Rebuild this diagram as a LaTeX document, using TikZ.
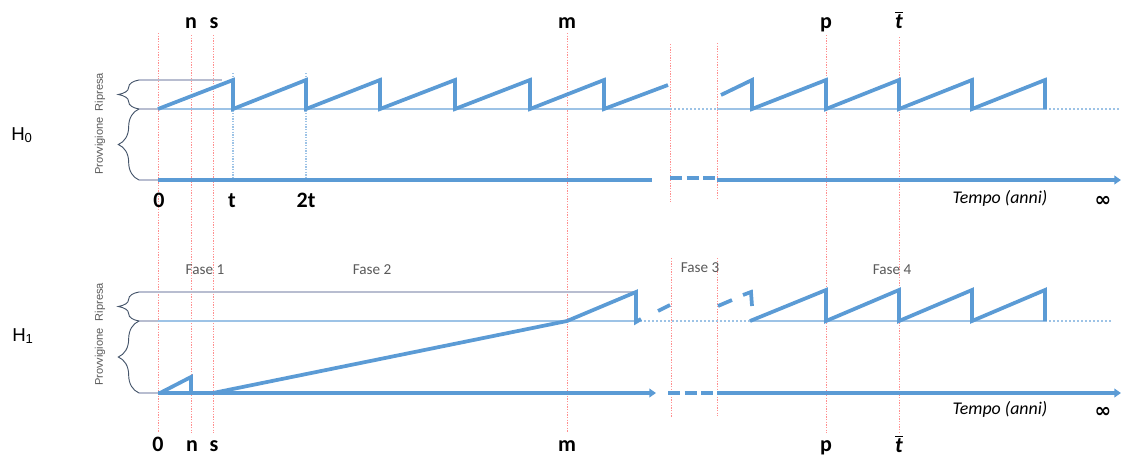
\documentclass[tikz,border=0pt]{standalone}
\usepackage{fontspec}
\setmainfont{Carlito}
\newfontfamily\arialf{Liberation Sans}
\newfontfamily\djv{DejaVu Sans}
\usetikzlibrary{arrows.meta,decorations.pathreplacing}
\definecolor{cblue}{HTML}{5B9BD5}
\definecolor{lblue}{HTML}{9DC3E6}
\definecolor{cred}{HTML}{FF8F8F}
\definecolor{navy}{HTML}{44546A}
\definecolor{lgray}{HTML}{B8BDD0}
\definecolor{tgray}{HTML}{595959}
\newcommand{\tbar}{$\overline{\mbox{\textbf{\textit{t}}}}$}
\begin{document}
\begin{tikzpicture}[x=0.75pt,y=-0.75pt,
  saw/.style={draw=cblue,line width=2.8pt},
  axisline/.style={draw=cblue,line width=2.8pt},
  axisdash/.style={draw=cblue,line width=2.8pt,dash pattern=on 9pt off 3.5pt},
  tip/.style={-{Triangle[length=5pt,width=6.5pt]}},
  base/.style={draw=lblue,line width=1.2pt},
  basedot/.style={draw=lblue,line width=1.2pt,dash pattern=on 1.5pt off 1.5pt},
  redline/.style={draw=cred,line width=0.75pt,dash pattern=on 1pt off 1pt},
  bluedot/.style={draw=lblue,line width=0.8pt,dash pattern=on 1pt off 1pt},
  guide/.style={draw=lgray,line width=0.8pt},
  brc/.style={draw=navy,line width=0.7pt,decorate,decoration={brace,amplitude=15.5pt}},
  lab/.style={font=\fontsize{16.5}{18}\selectfont\bfseries,anchor=base,inner sep=0pt},
  fase/.style={font=\fontsize{11.4}{13}\selectfont,text=tgray,anchor=base,inner sep=0pt},
  tempo/.style={font=\fontsize{13.4}{15}\selectfont\itshape,anchor=base,inner sep=0pt},
  inf/.style={font=\djv\bfseries\fontsize{15}{16}\selectfont,inner sep=0pt},
  side/.style={font=\arialf\fontsize{8.3}{10}\selectfont,text=tgray,rotate=90,inner sep=0pt},
  hlab/.style={font=\arialf\fontsize{14}{15}\selectfont,anchor=base west,inner sep=0pt}
]
\useasboundingbox (0,0) rectangle (1122,457);

% ---------- red dotted verticals ----------
\foreach \x/\ya in {158/33,191/35,213/35,567/33,826/35,899/37}
  \draw[redline] (\x,\ya) -- (\x,433);
\draw[redline] (670,44) -- (670,202);
\draw[redline] (717,43) -- (717,200);
\draw[redline] (671,258) -- (671,417);
\draw[redline] (717,258) -- (717,416);

% ---------- H0 chart ----------
\draw[guide] (139,80) -- (222,80);
\draw[guide] (139,109) -- (158,109);
\draw[guide] (139,180) -- (158,180);
\draw[brc] (139,109) -- (139,80);
\draw[brc] (139,180) -- (139,109);
\node[side] (rip0) at (100,92) {Ripresa};
\node[side] (prov0) at (100,146) {Provvigione};
\node[hlab] (h0) at (11,140) {H\textsubscript{0}};

\draw[bluedot] (233,73) -- (233,180);
\draw[bluedot] (306,73) -- (306,180);

\draw[base] (158,109) -- (670,109);
\draw[basedot] (670,109) -- (717,109);
\draw[base] (717,109) -- (1045,109);
\draw[basedot] (1045,109) -- (1120,109);

\draw[saw] (158,109) -- (233,80) -- (233,109) -- (306,80) -- (306,109)
  -- (380,80) -- (380,109) -- (455,80) -- (455,109) -- (530,80) -- (530,109)
  -- (604,80) -- (604,109) -- (668,85);
\draw[saw] (721,95) -- (752,80) -- (752,109) -- (826,80) -- (826,109)
  -- (899,80) -- (899,109) -- (972,80) -- (972,109) -- (1045,80) -- (1045,109);

\draw[axisline] (158,180) -- (652,180);
\draw[axisdash] (670,178) -- (716,178);
\draw[axisline,tip] (717,180) -- (1121,180);

\node[lab] (n0) at (191,28) {n};
\node[lab] (s0) at (214,28) {s};
\node[lab] (m0) at (567,28) {m};
\node[lab] (p0) at (826,28) {p};
\node[lab] (tb0) at (899,28) {\tbar};
\node[lab] (z0) at (159,207) {0};
\node[lab] (t0) at (232,207) {t};
\node[lab] (tt0) at (306,207) {2t};
\node[tempo] (tempo0) at (1000,203) {Tempo (anni)};
\node[inf] (inf0) at (1103,201) {∞};

% ---------- H1 chart ----------
\node[fase] (f1) at (205,274) {Fase 1};
\node[fase] (f2) at (372,274) {Fase 2};
\node[fase] (f3) at (700,272) {Fase 3};
\node[fase] (f4) at (892,274) {Fase 4};

\draw[guide] (139,292) -- (636,292);
\draw[guide] (139,321) -- (158,321);
\draw[guide] (139,393) -- (158,393);
\draw[brc] (139,321) -- (139,292);
\draw[brc] (139,393) -- (139,321);
\node[side] (rip1) at (100,302) {Ripresa};
\node[side] (prov1) at (100,357) {Provvigione};
\node[hlab] (h1) at (12,341) {H\textsubscript{1}};

\draw[base] (158,321) -- (636,321);
\draw[basedot] (636,321) -- (750,321);
\draw[base] (750,321) -- (1045,321);
\draw[basedot] (1045,321) -- (1112,321);

\draw[axisline,tip] (158,393) -- (656,393);
\draw[axisdash] (668,393) -- (716,393);
\draw[axisline,tip] (717,393) -- (1121,393);

\draw[saw] (160,393) -- (191,377) -- (191,393);
\draw[saw] (213,393) -- (567,321) -- (636,292) -- (636,322) -- (641,319);
\draw[saw] (658,311) -- (670,305);
\draw[saw] (718,306) -- (732,300);
\draw[saw] (743,295) -- (751,292) -- (752,306);
\draw[saw] (750,321) -- (826,290) -- (826,321) -- (899,290) -- (899,321)
  -- (972,290) -- (972,321) -- (1045,290) -- (1045,321);

\node[lab] (z1) at (158,451) {0};
\node[lab] (n1) at (192,451) {n};
\node[lab] (s1) at (214,451) {s};
\node[lab] (m1) at (567,451) {m};
\node[lab] (p1) at (826,451) {p};
\node[lab] (tb1) at (899,452) {\tbar};
\node[tempo] (tempo1) at (1000,414) {Tempo (anni)};
\node[inf] (inf1) at (1103,412) {∞};
\end{tikzpicture}
\end{document}
